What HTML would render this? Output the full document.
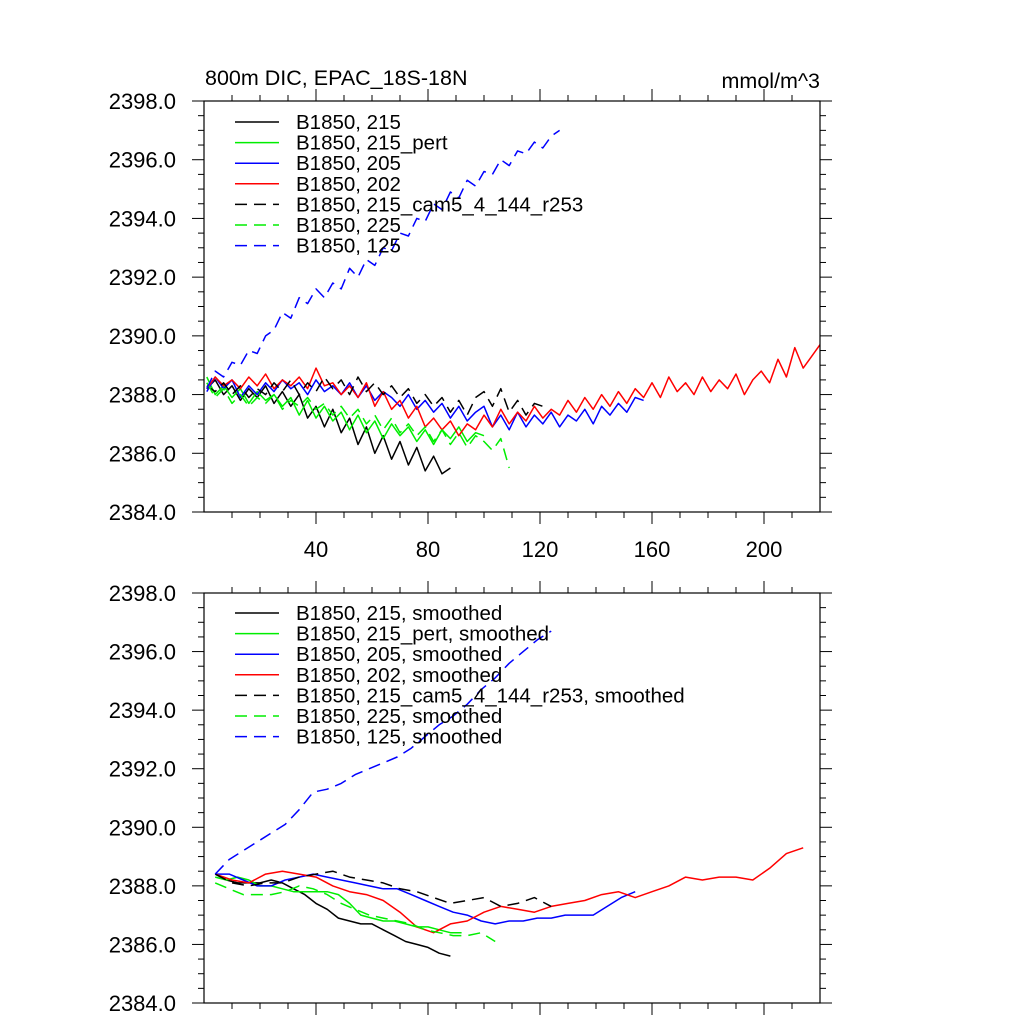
<!DOCTYPE html>
<html><head><meta charset="utf-8"><style>
html,body{margin:0;padding:0;background:#fff;}
svg{display:block;font-family:"Liberation Sans",sans-serif;}
</style></head><body>
<svg id="chart" width="1024" height="1024" viewBox="0 0 1024 1024">
<text x="205" y="85" font-size="21.5">800m DIC, EPAC_18S-18N</text>
<text x="820" y="88" font-size="21.5" text-anchor="end">mmol/m^3</text>
</svg>
<script>
// ---- data: top panel (raw), start year 1, step 3
const rawStart = 1, rawStep = 3;
const raw215 = [2388.2,2388.5,2388.0,2388.3,2387.8,2388.2,2387.9,2388.3,2387.7,2388.1,2387.6,2388.0,2387.2,2387.6,2386.9,2387.5,2386.7,2387.2,2386.3,2386.9,2386.0,2386.6,2385.8,2386.4,2385.6,2386.2,2385.4,2385.9,2385.3,2385.5];
const raw215pert = [2388.6,2388.0,2388.3,2387.9,2388.2,2387.7,2388.1,2387.8,2388.0,2387.6,2387.9,2387.3,2387.8,2387.2,2387.6,2387.1,2387.4,2386.8,2387.3,2386.7,2387.1,2386.5,2387.0,2386.6,2386.9,2386.4,2386.8,2386.3,2386.8,2386.5,2386.9,2386.4,2386.7,2386.6];
const raw205 = [2388.1,2388.6,2388.2,2388.5,2387.9,2388.3,2388.0,2388.4,2388.1,2388.5,2388.2,2388.4,2388.0,2388.5,2388.1,2388.3,2388.0,2388.4,2387.9,2388.3,2387.8,2388.1,2387.9,2387.6,2388.0,2387.5,2387.8,2387.4,2387.7,2387.2,2387.6,2387.1,2387.4,2387.6,2386.9,2387.3,2386.8,2387.4,2386.9,2387.3,2387.0,2387.4,2386.9,2387.3,2387.1,2387.5,2387.0,2387.6,2387.3,2387.7,2387.4,2387.9,2387.8];
const raw202 = [2388.2,2388.6,2388.3,2388.5,2388.2,2388.6,2388.3,2388.7,2388.2,2388.5,2388.3,2388.6,2388.2,2388.9,2388.3,2388.4,2388.0,2388.3,2387.9,2388.4,2387.6,2388.1,2387.5,2387.8,2387.2,2387.6,2386.9,2387.2,2386.8,2387.1,2386.6,2387.0,2386.8,2387.3,2386.9,2387.5,2387.0,2387.4,2387.1,2387.6,2387.2,2387.5,2387.3,2387.8,2387.4,2387.9,2387.5,2388.0,2387.6,2388.1,2387.7,2388.2,2387.9,2388.4,2387.9,2388.6,2388.1,2388.4,2388.0,2388.6,2388.1,2388.5,2388.2,2388.7,2388.0,2388.5,2388.8,2388.4,2389.2,2388.6,2389.6,2388.9,2389.3,2389.7];
const raw215cam = [2388.3,2388.1,2388.4,2388.0,2388.3,2387.9,2388.2,2388.0,2388.4,2388.1,2388.5,2388.0,2388.4,2388.1,2388.6,2388.2,2388.5,2388.0,2388.6,2388.1,2388.4,2388.0,2388.3,2387.9,2388.2,2387.7,2388.0,2387.6,2387.9,2387.4,2387.8,2387.3,2387.9,2388.1,2387.6,2388.2,2387.4,2387.8,2387.3,2387.7,2387.6];
const raw225 = [2388.4,2387.9,2388.2,2387.7,2388.0,2387.6,2387.9,2387.7,2388.0,2387.5,2387.8,2387.6,2387.9,2387.5,2387.7,2387.3,2387.6,2387.2,2387.5,2387.0,2387.3,2386.8,2387.2,2386.7,2387.0,2386.6,2386.9,2386.4,2386.8,2386.3,2386.7,2386.2,2386.6,2386.4,2386.1,2386.5,2385.5];
const raw125 = [2388.2,2388.8,2388.6,2389.1,2389.0,2389.5,2389.4,2390.0,2390.2,2390.8,2390.6,2391.3,2391.1,2391.6,2391.3,2391.8,2391.6,2392.3,2392.0,2392.6,2392.4,2393.0,2392.9,2393.5,2393.4,2394.0,2393.9,2394.5,2394.3,2394.9,2394.7,2395.3,2395.1,2395.6,2395.5,2396.0,2395.8,2396.3,2396.2,2396.6,2396.4,2396.8,2397.0];
// ---- data: bottom panel (smoothed), start year 4
const smStart = 4;
const sm215 = [2388.4,2388.2,2388.1,2388.1,2388.1,2388.2,2388.1,2387.9,2387.7,2387.4,2387.2,2386.9,2386.8,2386.7,2386.7,2386.5,2386.3,2386.1,2386.0,2385.9,2385.7,2385.6];
const sm215Step = 4;
const sm215pert = [2388.3,2388.2,2388.3,2388.2,2388.0,2388.0,2387.9,2387.8,2387.8,2387.8,2387.8,2387.7,2387.4,2387.0,2386.9,2386.8,2386.8,2386.7,2386.6,2386.6,2386.5,2386.4,2386.4];
const sm215pertStep = 4;
const sm205 = [2388.4,2388.4,2388.2,2388.0,2388.0,2388.2,2388.3,2388.4,2388.3,2388.2,2388.1,2388.0,2387.9,2387.9,2387.7,2387.5,2387.3,2387.1,2387.0,2386.8,2386.7,2386.8,2386.8,2386.9,2386.9,2387.0,2387.0,2387.0,2387.3,2387.6,2387.8];
const sm205Step = 5;
const sm202 = [2388.4,2388.2,2388.1,2388.4,2388.5,2388.4,2388.3,2388.0,2387.8,2387.7,2387.5,2387.1,2386.6,2386.4,2386.7,2386.8,2387.1,2387.3,2387.2,2387.1,2387.3,2387.4,2387.5,2387.7,2387.8,2387.6,2387.8,2388.0,2388.3,2388.2,2388.3,2388.3,2388.2,2388.6,2389.1,2389.3];
const sm202Step = 6;
const sm215cam = [2388.4,2388.1,2388.0,2388.1,2388.1,2388.3,2388.4,2388.5,2388.3,2388.2,2388.1,2387.9,2387.8,2387.6,2387.4,2387.5,2387.6,2387.3,2387.4,2387.6,2387.3];
const sm215camStep = 6;
const sm225 = [2388.1,2387.9,2387.7,2387.7,2387.7,2387.8,2388.0,2387.9,2387.7,2387.4,2387.2,2387.0,2386.9,2386.8,2386.7,2386.5,2386.4,2386.3,2386.3,2386.4,2386.1];
const sm225Step = 5;
const sm125 = [2388.4,2388.9,2389.2,2389.5,2389.8,2390.1,2390.6,2391.2,2391.3,2391.5,2391.8,2392.0,2392.2,2392.4,2392.7,2393.1,2393.5,2393.8,2394.2,2394.7,2395.1,2395.6,2396.0,2396.4,2396.7];
const sm125Step = 5;
const yTicks = [2384,2386,2388,2390,2392,2394,2396,2398];
const xTicks = [40,80,120,160,200];
const labelsTop = ["B1850, 215","B1850, 215_pert","B1850, 205","B1850, 202","B1850, 215_cam5_4_144_r253","B1850, 225","B1850, 125"];
const labelsBot = labelsTop.map(s => s + ", smoothed");

const NS = "http://www.w3.org/2000/svg";
const svg = document.getElementById("chart");
function mk(tag, attrs, parent){const e=document.createElementNS(NS,tag);for(const k in attrs)e.setAttribute(k,attrs[k]);(parent||svg).appendChild(e);return e;}

const X0=204, X1=820, XMIN=0, XMAX=220;
function xs(v){return X0+(v-XMIN)/(XMAX-XMIN)*(X1-X0);}

function panel(top, bottom, name, series, labels, legendY, showXLabels){
  const g = mk("g",{});
  
  
  const ys = v => bottom - (v-2384)/14*(bottom-top);
  const tk = mk("g",{stroke:"#000","stroke-width":"1"},g);
  
  
  for(let v=2384; v<=2398.01; v+=0.5){
    const major = Math.abs(v-Math.round(v/2)*2)<0.01;
    const L = major?12:6, y=ys(v);
    mk("line",{x1:X0,x2:X0-L,y1:y,y2:y},tk);
    mk("line",{x1:X1,x2:X1+L,y1:y,y2:y},tk);
  }
  for(let v=10; v<XMAX; v+=10){
    const major = v%40===0, L = major?12:6, x=xs(v);
    mk("line",{x1:x,x2:x,y1:bottom,y2:bottom+L},tk);
    mk("line",{x1:x,x2:x,y1:top,y2:top-L},tk);
  }
  yTicks.forEach(v=>{
    const t = mk("text",{x:176,y:ys(v)+8,"font-size":"22","text-anchor":"end"},g);
    
    
    t.textContent = v.toFixed(1);
  });
  if(showXLabels){
    xTicks.forEach(v=>{
      const t = mk("text",{x:xs(v),y:bottom+45,"font-size":"22","text-anchor":"middle"},g);
      
      
      t.textContent = v;
    });
  }
  series.forEach(s=>{
    const pts = s.vals.map((v,i)=>xs(s.start+i*s.step).toFixed(1)+","+ys(v).toFixed(1)).join(" ");
    const p = mk("polyline",{points:pts,fill:"none",stroke:s.color,"stroke-width":"1.5","stroke-dasharray":s.dash?"12,7":"none","stroke-linejoin":"round"},g);
    
    
  });
  const fr = mk("rect",{x:X0,y:top,width:X1-X0,height:bottom-top,fill:"none",stroke:"#000","stroke-width":"1.2"},g);
  
  
  series.forEach((s,i)=>{
    const y = legendY + i*20.6;
    const le = mk("g",{},g);
    
    
    mk("line",{x1:235,x2:279,y1:y,y2:y,stroke:s.color,"stroke-width":"1.5","stroke-dasharray":s.dash?"12,7":"none"},le);
    const t = mk("text",{x:296,y:y+7,"font-size":"20.5"},le);
    t.textContent = labels[i];
  });
}
const colors=["#000","#00ee00","#0000ff","#ff0000","#000","#00ee00","#0000ff"];
const dashes=[false,false,false,false,true,true,true];
const ids=["215","215-pert","205","202","215-cam5","225","125"];
const rawVals=[raw215,raw215pert,raw205,raw202,raw215cam,raw225,raw125];
const smVals=[sm215,sm215pert,sm205,sm202,sm215cam,sm225,sm125];
const smSteps=[sm215Step,sm215pertStep,sm205Step,sm202Step,sm215camStep,sm225Step,sm125Step];
panel(101,512,"top-panel",rawVals.map((v,i)=>({id:ids[i],vals:v,start:rawStart,step:rawStep,color:colors[i],dash:dashes[i]})),labelsTop,122,true);
panel(593,1003,"bottom-panel",smVals.map((v,i)=>({id:ids[i]+'-smoothed',vals:v,start:smStart,step:smSteps[i],color:colors[i],dash:dashes[i]})),labelsBot,613,false);
</script>
</body></html>
